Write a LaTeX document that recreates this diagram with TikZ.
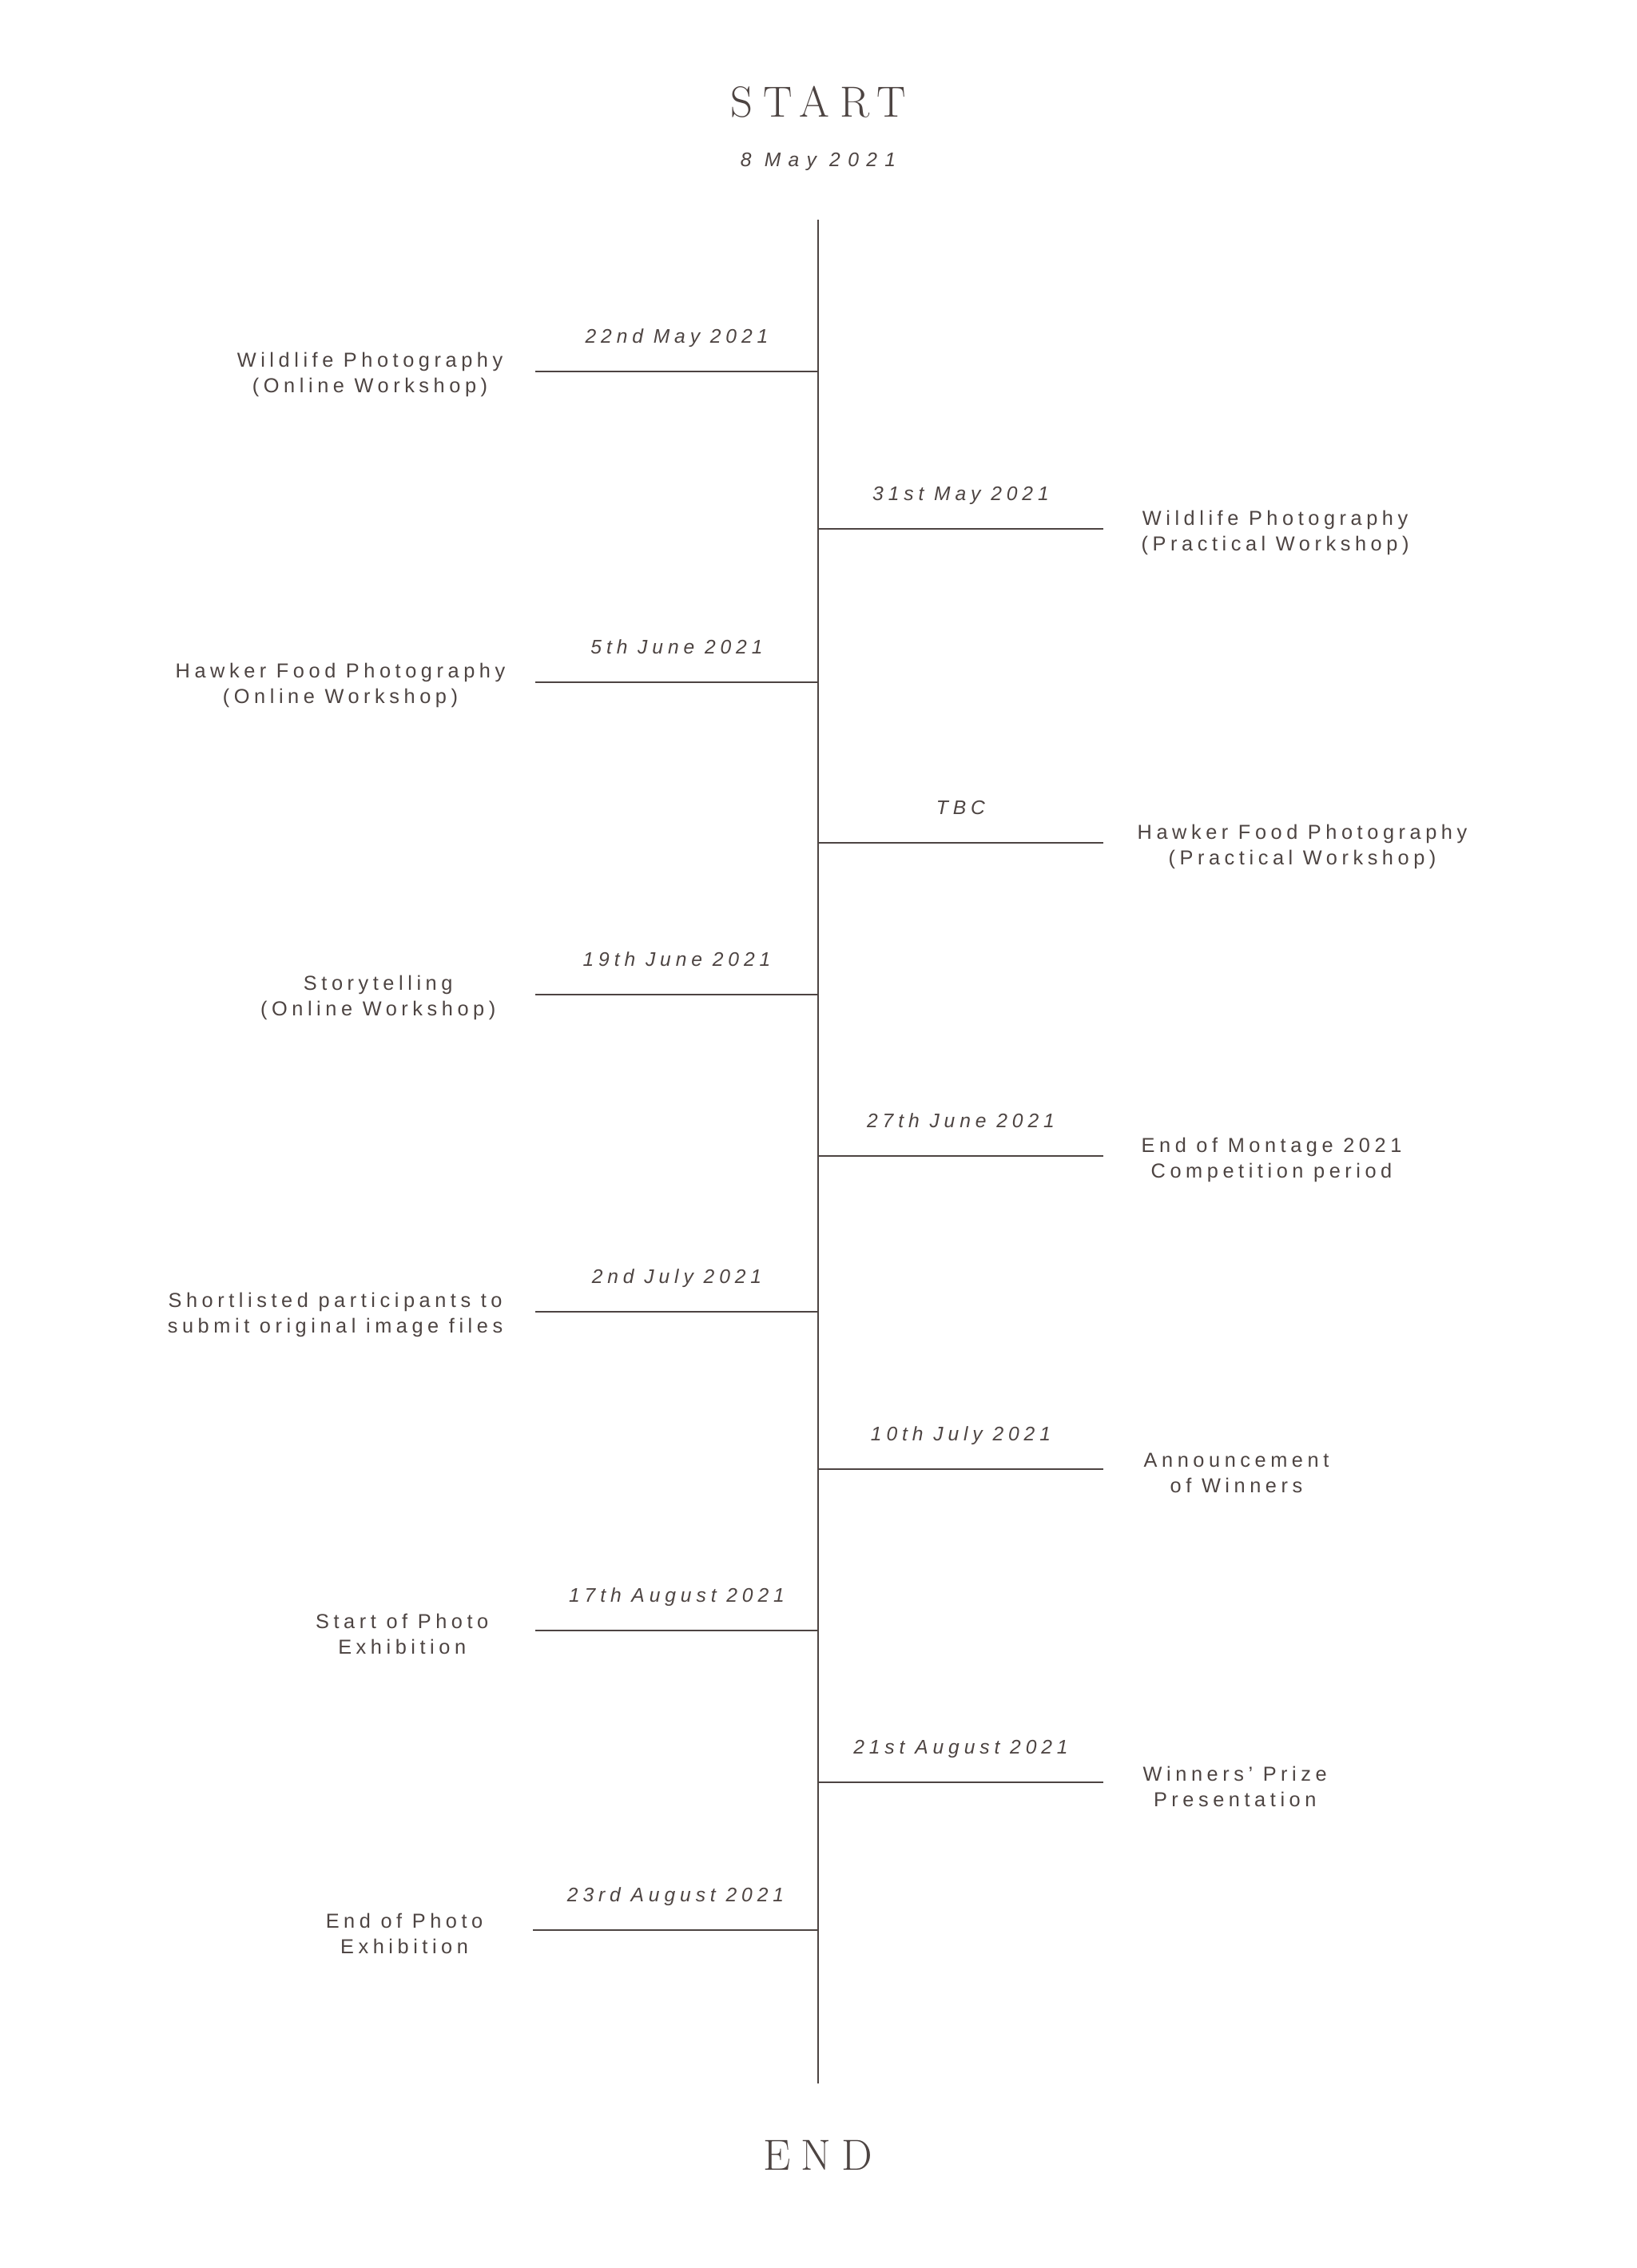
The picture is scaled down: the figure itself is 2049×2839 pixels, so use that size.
\documentclass[tikz,border=0pt]{standalone}
\usepackage{fontspec}
\usepackage{xcolor}
\usetikzlibrary{calc}
\newfontfamily\headfont[LetterSpace=24]{Latin Modern Roman}
\newfontfamily\descfont[LetterSpace=22]{Liberation Sans}
\newfontfamily\datefont[LetterSpace=24]{Liberation Sans}
\newfontfamily\startdatefont[LetterSpace=38]{Liberation Sans}
\definecolor{ink}{RGB}{77,68,66}

\tikzset{
    spine/.style={draw=ink, line width=0.75pt},
    tick/.style={draw=ink, line width=0.75pt},
    headlbl/.style={font=\headfont\fontsize{15.5}{18}\selectfont, text=ink, inner sep=0pt},
    datelbl/.style={font=\datefont\itshape\fontsize{7}{9}\selectfont, text=ink, inner sep=0pt, anchor=base},
    eventlbl/.style={font=\descfont\fontsize{7.2}{9.1}\selectfont, text=ink, inner sep=0pt, align=center}
}

\begin{document}
\begin{tikzpicture}[x=0.01cm, y=-0.01cm]
    % 页面
    \fill[white] (0,0) rectangle (2049,2839);
    \useasboundingbox (0,0) rectangle (2049,2839);

    % 标题
    \node[headlbl] (start) at (1024,128) {START};
    \node[font=\startdatefont\itshape\fontsize{7}{9}\selectfont, text=ink, inner sep=0pt, anchor=base] (startdate) at (1024,208) {8 May 2021};
    \node[headlbl] (end) at (1024,2698) {END};

    % 主轴
    \coordinate (top) at (1024,275);
    \coordinate (bottom) at (1024,2608);
    \draw[spine] (top) -- (bottom);

    % 左侧
    \coordinate (a1) at (1024,465);   \coordinate (a1e) at (670,465);
    \coordinate (a3) at (1024,854);   \coordinate (a3e) at (670,854);
    \coordinate (a5) at (1024,1245);  \coordinate (a5e) at (670,1245);
    \coordinate (a7) at (1024,1642);  \coordinate (a7e) at (670,1642);
    \coordinate (a9) at (1024,2041);  \coordinate (a9e) at (670,2041);
    \coordinate (a11) at (1024,2416); \coordinate (a11e) at (667,2416);
    % 右侧
    \coordinate (a2) at (1024,662);   \coordinate (a2e) at (1381,662);
    \coordinate (a4) at (1024,1055);  \coordinate (a4e) at (1381,1055);
    \coordinate (a6) at (1024,1447);  \coordinate (a6e) at (1381,1447);
    \coordinate (a8) at (1024,1839);  \coordinate (a8e) at (1381,1839);
    \coordinate (a10) at (1024,2231); \coordinate (a10e) at (1381,2231);

    \draw[tick] (a1e) -- (a1);
    \draw[tick] (a2) -- (a2e);
    \draw[tick] (a3e) -- (a3);
    \draw[tick] (a4) -- (a4e);
    \draw[tick] (a5e) -- (a5);
    \draw[tick] (a6) -- (a6e);
    \draw[tick] (a7e) -- (a7);
    \draw[tick] (a8) -- (a8e);
    \draw[tick] (a9e) -- (a9);
    \draw[tick] (a10) -- (a10e);
    \draw[tick] (a11e) -- (a11);

    % 日期
    \node[datelbl] (d1) at ($(a1e)!0.5!(a1)+(0,-36)$) {22nd May 2021};
    \node[datelbl] (d2) at ($(a2)!0.5!(a2e)+(0,-36)$) {31st May 2021};
    \node[datelbl] (d3) at ($(a3e)!0.5!(a3)+(0,-36)$) {5th June 2021};
    \node[datelbl] (d4) at ($(a4)!0.5!(a4e)+(0,-36)$) {TBC};
    \node[datelbl] (d5) at ($(a5e)!0.5!(a5)+(0,-36)$) {19th June 2021};
    \node[datelbl] (d6) at ($(a6)!0.5!(a6e)+(0,-36)$) {27th June 2021};
    \node[datelbl] (d7) at ($(a7e)!0.5!(a7)+(0,-36)$) {2nd July 2021};
    \node[datelbl] (d8) at ($(a8)!0.5!(a8e)+(0,-36)$) {10th July 2021};
    \node[datelbl] (d9) at ($(a9e)!0.5!(a9)+(0,-36)$) {17th August 2021};
    \node[datelbl] (d10) at ($(a10)!0.5!(a10e)+(0,-36)$) {21st August 2021};
    \node[datelbl] (d11) at ($(a11e)!0.5!(a11)+(0,-36)$) {23rd August 2021};

    % 活动
    \node[eventlbl, anchor=east] (t1) at ($(a1e)+(-40,4)$) {Wildlife Photography\\(Online Workshop)};
    \node[eventlbl, anchor=west] (t2) at ($(a2e)+(47,5)$) {Wildlife Photography\\(Practical Workshop)};
    \node[eventlbl, anchor=east] (t3) at ($(a3e)+(-37,4)$) {Hawker Food Photography\\(Online Workshop)};
    \node[eventlbl, anchor=west] (t4) at ($(a4e)+(42,5)$) {Hawker Food Photography\\(Practical Workshop)};
    \node[eventlbl, anchor=east] (t5) at ($(a5e)+(-49,4)$) {Storytelling\\(Online Workshop)};
    \node[eventlbl, anchor=west] (t6) at ($(a6e)+(47,5)$) {End of Montage 2021\\Competition period};
    \node[eventlbl, anchor=east] (t7) at ($(a7e)+(-40,4)$) {Shortlisted participants to\\submit original image files};
    \node[eventlbl, anchor=west] (t8) at ($(a8e)+(50,5)$) {Announcement\\of Winners};
    \node[eventlbl, anchor=east] (t9) at ($(a9e)+(-58,4)$) {Start of Photo\\Exhibition};
    \node[eventlbl, anchor=west] (t10) at ($(a10e)+(49,5)$) {Winners’ Prize\\Presentation};
    \node[eventlbl, anchor=east] (t11) at ($(a11e)+(-62,4)$) {End of Photo\\Exhibition};
\end{tikzpicture}
\end{document}
